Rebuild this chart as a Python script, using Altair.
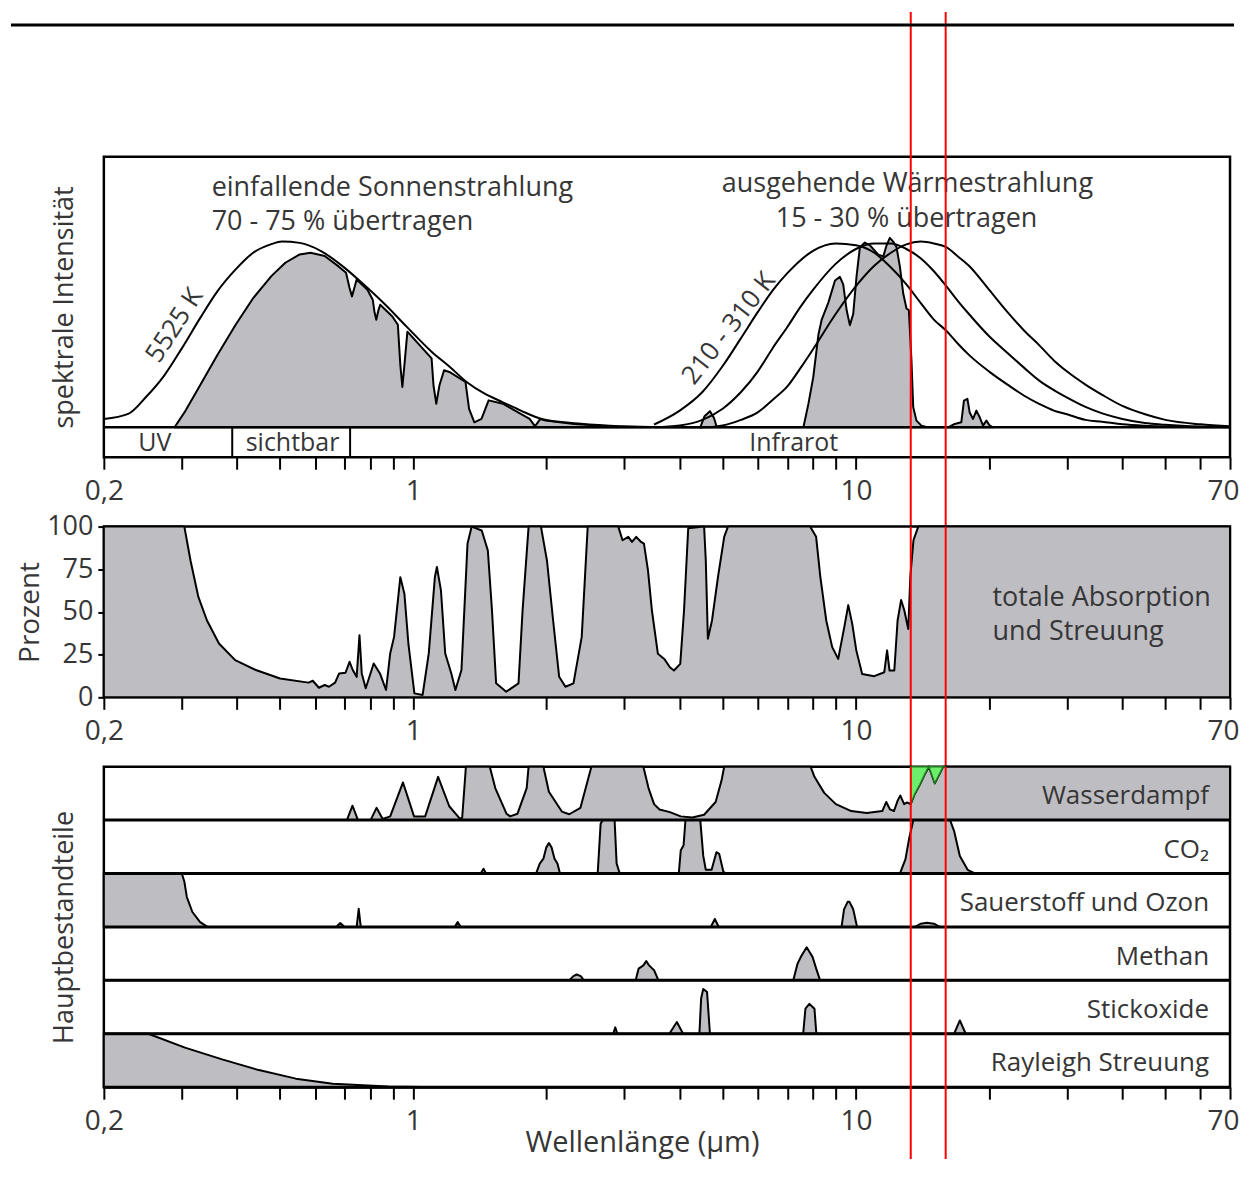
import altair as alt
import pandas as pd

FONT = "Open Sans"
INK = "#363636"
GRAY = "#bebdc2"
RED = "#ff0000"
GREEN = "#6ced6c"
GREEN_EDGE = "#1d7a1d"

# ---------------- axis ----------------
TICK_VALUES = [0.2, 0.3, 0.4, 0.5, 0.6, 0.7, 0.8, 0.9, 1, 2, 3, 4, 5, 6, 7, 8, 9,
               10, 20, 30, 40, 50, 60, 70]
TICK_TEXT = {0.2: "0,2", 1: "1", 10: "10", 70: "70"}
RED_LINES_UM = [13.3, 15.95]
BAND_EDGES_UM = [0.39, 0.72]

# ---------------- top panel: spectral intensity ----------------
BB5525 = [(0.2, 0.045), (0.227, 0.072), (0.249, 0.163), (0.274, 0.28), (0.300, 0.425),
          (0.330, 0.588), (0.361, 0.732), (0.397, 0.85), (0.435, 0.94), (0.478, 0.986),
          (0.505, 1.0), (0.554, 0.993), (0.619, 0.949), (0.692, 0.868), (0.773, 0.769),
          (0.865, 0.66), (0.966, 0.542), (1.10, 0.407), (1.21, 0.325), (1.32, 0.244),
          (1.45, 0.181), (1.59, 0.136), (1.75, 0.09), (1.95, 0.045), (2.31, 0.022),
          (2.78, 0.009), (3.46, 0.002), (4.5, 0.0)]

SOLAR_TRANSMITTED = [(0.289, 0), (0.306, 0.09), (0.330, 0.226), (0.361, 0.389), (0.397, 0.552),
                     (0.435, 0.696), (0.478, 0.814), (0.514, 0.886), (0.554, 0.931), (0.586, 0.94),
                     (0.631, 0.922), (0.679, 0.865), (0.705, 0.832), (0.718, 0.75), (0.727, 0.705),
                     (0.736, 0.75), (0.745, 0.796), (0.788, 0.741), (0.810, 0.687), (0.817, 0.624),
                     (0.825, 0.579), (0.833, 0.624), (0.842, 0.66), (0.897, 0.597), (0.923, 0.552),
                     (0.935, 0.335), (0.945, 0.217), (0.955, 0.335), (0.970, 0.515), (1.041, 0.434),
                     (1.10, 0.371), (1.111, 0.226), (1.127, 0.127), (1.146, 0.226), (1.174, 0.307),
                     (1.207, 0.298), (1.312, 0.244), (1.337, 0.099), (1.374, 0.027), (1.426, 0.045),
                     (1.480, 0.145), (1.594, 0.127), (1.749, 0.072), (1.832, 0.045), (1.884, 0.005),
                     (1.936, 0.045), (1.991, 0.036), (2.31, 0.018), (2.78, 0.005), (3.46, 0.0)]

TERR_WL = [3.5, 4, 4.5, 5, 5.5, 6, 6.5, 7, 7.5, 8, 9, 10, 11, 12, 13, 14, 15, 16, 17, 18,
           20, 22, 24, 26, 28, 30, 33, 36, 40, 45, 50, 60, 70]
BB310 = [0.015, 0.09, 0.19, 0.33, 0.48, 0.62, 0.74, 0.83, 0.90, 0.95, 0.99, 0.98, 0.94, 0.86,
         0.77, 0.67, 0.58, 0.52, 0.45, 0.39, 0.30, 0.23, 0.17, 0.125, 0.09, 0.07, 0.04, 0.03,
         0.016, 0.008, 0.004, 0, 0]
BB260 = [0, 0.01, 0.04, 0.10, 0.19, 0.30, 0.43, 0.54, 0.65, 0.74, 0.88, 0.96, 0.99, 0.99,
         0.96, 0.91, 0.84, 0.76, 0.68, 0.61, 0.49, 0.40, 0.32, 0.25, 0.20, 0.16, 0.11, 0.075,
         0.045, 0.023, 0.014, 0.004, 0]
BB210 = [0, 0, 0, 0.01, 0.04, 0.08, 0.15, 0.22, 0.32, 0.42, 0.61, 0.76, 0.87, 0.94, 0.985,
         1.0, 0.99, 0.97, 0.92, 0.87, 0.74, 0.62, 0.52, 0.44, 0.36, 0.30, 0.23, 0.175, 0.115,
         0.07, 0.04, 0.016, 0.006]

THERMAL_TRANSMITTED = [(4.45, 0), (4.55, 0.06), (4.68, 0.087), (4.78, 0.05), (4.85, 0),
                       (7.61, 0), (7.81, 0.126), (8.01, 0.27), (8.23, 0.50), (8.37, 0.58),
                       (8.66, 0.67), (8.97, 0.79), (9.20, 0.81), (9.36, 0.77), (9.53, 0.63),
                       (9.69, 0.55), (9.86, 0.61), (10.03, 0.81), (10.21, 0.97), (10.48, 0.995),
                       (10.75, 0.98), (11.23, 0.93), (11.53, 0.92), (11.73, 0.98), (11.93, 1.02),
                       (12.14, 1.0), (12.35, 0.97), (12.57, 0.865), (12.79, 0.72), (13.01, 0.64),
                       (13.17, 0.63), (13.35, 0.36), (13.47, 0.11), (13.70, 0.036), (14.06, 0.009),
                       (14.5, 0), (16.15, 0), (16.72, 0.018), (17.3, 0.027), (17.54, 0.144),
                       (17.86, 0.153), (18.07, 0.08), (18.39, 0.045), (18.71, 0.09), (19.04, 0.054),
                       (19.37, 0.009), (19.71, 0.036), (20.05, 0.01), (20.4, 0)]

# ---------------- middle panel: total absorption (%) ----------------
TOTAL_ABSORPTION = [(0.2, 100), (0.304, 100), (0.314, 80), (0.327, 58.8), (0.342, 45),
                    (0.364, 31.5), (0.396, 21.8), (0.441, 16), (0.500, 11), (0.580, 8.6),
                    (0.593, 9.7), (0.612, 5.6), (0.631, 7.2), (0.645, 6.2), (0.666, 8.6),
                    (0.680, 14), (0.703, 14.4), (0.718, 20.8), (0.730, 16), (0.745, 12),
                    (0.756, 36.4), (0.765, 14), (0.781, 5.3), (0.814, 19.8), (0.841, 14),
                    (0.868, 4.3), (0.887, 25.7), (0.905, 35.4), (0.935, 70.4), (0.955, 60.7),
                    (0.975, 31.5), (1.006, 2.3), (1.05, 1.4), (1.084, 25.7), (1.119, 70.4),
                    (1.131, 76.3), (1.155, 62.6), (1.181, 25.7), (1.219, 14), (1.245, 4.3),
                    (1.285, 16), (1.326, 89.9), (1.355, 100), (1.428, 97.7), (1.474, 86),
                    (1.506, 51), (1.539, 8.2), (1.622, 3.3), (1.729, 8.2), (1.766, 51),
                    (1.822, 100), (1.943, 100), (2.005, 80), (2.07, 45), (2.136, 12),
                    (2.207, 6.2), (2.301, 8.2), (2.402, 35.4), (2.478, 100), (2.905, 100),
                    (2.97, 92), (3.06, 94), (3.12, 91), (3.19, 94), (3.27, 91), (3.32, 90),
                    (3.39, 74.5), (3.46, 51), (3.57, 25.5), (3.69, 22.5), (3.80, 17.6),
                    (3.88, 15.7), (4.01, 19.6), (4.09, 51), (4.18, 99), (4.54, 100), (4.58, 80),
                    (4.63, 34.3), (4.73, 45), (4.88, 70.6), (5.04, 94), (5.14, 100), (7.88, 100),
                    (8.13, 94), (8.31, 70.6), (8.57, 45), (8.84, 29.4), (9.12, 22.5), (9.41, 41),
                    (9.61, 54), (9.81, 43), (10.02, 27.5), (10.33, 13.7), (11.0, 12.4),
                    (11.59, 14.7), (11.76, 27.5), (11.91, 15.7), (12.21, 15.7), (12.42, 45),
                    (12.65, 57), (12.86, 51), (13.13, 40), (13.27, 70.6), (13.49, 92),
                    (13.83, 100), (70, 100)]

# ---------------- bottom panel: main absorbers (fraction of row) ----------------
ROW_NAMES = ["Wasserdampf", "CO\u2082", "Sauerstoff und Ozon", "Methan", "Stickoxide",
             "Rayleigh Streuung"]

WATER = [(0.2, 0), (0.708, 0), (0.729, 0.27), (0.750, 0), (0.801, 0), (0.826, 0.23),
         (0.853, 0.02), (0.887, 0.07), (0.948, 0.705), (1.004, 0.07), (1.064, 0.07),
         (1.138, 0.81), (1.206, 0.26), (1.277, 0.02), (1.29, 0.05), (1.315, 1.0), (1.489, 1.0),
         (1.532, 0.6), (1.624, 0.12), (1.655, 0.07), (1.72, 0.12), (1.804, 0.6), (1.822, 1.0),
         (1.968, 1.0), (2.025, 0.53), (2.166, 0.16), (2.251, 0.11), (2.386, 0.23),
         (2.478, 0.74), (2.526, 1.0), (3.31, 1.0), (3.40, 0.6), (3.50, 0.3), (3.60, 0.2),
         (3.80, 0.15), (4.02, 0.07), (4.27, 0.05), (4.54, 0.10), (4.82, 0.34), (4.97, 0.74),
         (5.04, 1.0), (7.90, 1.0), (8.06, 0.81), (8.48, 0.51), (9.01, 0.30), (9.76, 0.17),
         (10.58, 0.135), (11.47, 0.17), (11.71, 0.34), (11.94, 0.2), (12.19, 0.17),
         (12.43, 0.37), (12.6, 0.46), (12.85, 0.30), (13.05, 0.33), (13.3, 0.30),
         (13.58, 0.49), (13.94, 0.66), (14.31, 0.86), (14.61, 1.0), (15.07, 0.69),
         (15.74, 1.0), (70, 1.0)]
CO2 = [(0.2, 0), (1.42, 0), (1.441, 0.09), (1.46, 0), (1.894, 0), (1.931, 0.185),
       (1.968, 0.278), (1.998, 0.49), (2.025, 0.57), (2.053, 0.49), (2.085, 0.278),
       (2.118, 0.185), (2.145, 0), (2.61, 0), (2.65, 0.93), (2.68, 1.0), (2.85, 1.0),
       (2.88, 0.19), (2.92, 0.03), (2.95, 0), (3.98, 0), (4.02, 0.43), (4.08, 0.53),
       (4.12, 1.0), (4.45, 1.0), (4.52, 0.33), (4.58, 0.07), (4.72, 0.07), (4.84, 0.4),
       (4.91, 0.37), (5.02, 0.03), (5.1, 0), (12.57, 0), (12.94, 0.27), (13.2, 0.67),
       (13.48, 1.0), (16.32, 1.0), (16.66, 0.8), (17.17, 0.33), (17.88, 0.07), (18.62, 0),
       (70, 0)]
OXYGEN_OZONE = [(0.2, 1.0), (0.300, 1.0), (0.304, 0.85), (0.308, 0.56), (0.317, 0.28),
                (0.330, 0.09), (0.343, 0), (0.67, 0), (0.684, 0.075), (0.70, 0), (0.745, 0),
                (0.753, 0.34), (0.761, 0), (1.24, 0), (1.26, 0.09), (1.28, 0), (4.7, 0),
                (4.80, 0.15), (4.9, 0), (9.28, 0), (9.4, 0.33), (9.58, 0.47), (9.67, 0.47),
                (9.86, 0.33), (10.06, 0), (13.6, 0), (14.0, 0.06), (14.47, 0.08), (15.0, 0.06),
                (15.46, 0), (70, 0)]
METHANE = [(0.2, 0), (2.25, 0), (2.30, 0.08), (2.34, 0.11), (2.39, 0.08), (2.43, 0),
           (3.18, 0), (3.23, 0.22), (3.31, 0.28), (3.36, 0.36), (3.41, 0.28), (3.50, 0.19),
           (3.58, 0), (7.22, 0), (7.38, 0.31), (7.51, 0.44), (7.74, 0.62), (7.98, 0.44),
           (8.14, 0.21), (8.3, 0), (70, 0)]
NITROGEN_OXIDES = [(0.2, 0), (2.83, 0), (2.86, 0.12), (2.89, 0), (3.79, 0), (3.94, 0.22),
                   (4.07, 0), (4.43, 0), (4.47, 0.66), (4.52, 0.84), (4.61, 0.78), (4.68, 0),
                   (7.6, 0), (7.69, 0.47), (7.85, 0.56), (8.06, 0.47), (8.14, 0), (16.66, 0),
                   (17.17, 0.25), (17.7, 0), (70, 0)]
RAYLEIGH = [(0.2, 1.0), (0.252, 1.0), (0.305, 0.74), (0.370, 0.52), (0.448, 0.32),
            (0.543, 0.16), (0.658, 0.065), (0.878, 0.013), (1.15, 0), (70, 0)]
GREEN_WINDOW = [(13.3, 0.30), (13.58, 0.49), (13.94, 0.66), (14.31, 0.86), (14.61, 1.0),
                (15.07, 0.69), (15.74, 1.0), (15.95, 1.0)]

# ---------------- layout ----------------
W = 1128
H_TOP, H_MID, H_BOT = 301, 171, 321

XS = alt.Scale(type="log", domain=[0.2, 70], nice=False)
LABEL_EXPR = "".join(f"datum.value == {k} ? '{v}' : " for k, v in TICK_TEXT.items()) + "''"


def x_axis(**kw):
    return alt.Axis(values=TICK_VALUES, labelExpr=LABEL_EXPR, tickSize=12, tickWidth=2,
                    tickColor="black", labelFontSize=28, labelPadding=8, labelOverlap=False,
                    labelFlush=False, domain=False, grid=False,
                    labelOffset={"condition": {"test": "datum.value == 70", "value": -7},
                                 "value": 0},
                    **kw)


X_PLAIN = alt.X("wl:Q", scale=XS, axis=x_axis(), title=None)
X_BOTTOM = alt.X("wl:Q", scale=XS, title="Wellenlänge (µm)",
                 axis=x_axis(titleX=539, titleY=64, titleAlign="center",
                             titleBaseline="alphabetic", titleFontSize=29))


def text_layer(txt, x, y, size=27, angle=0, align="left", baseline="alphabetic"):
    return alt.Chart(pd.DataFrame({"t": [txt]})).mark_text(
        align=align, baseline=baseline, fontSize=size, font=FONT, color=INK, angle=angle
    ).encode(text="t:N", x=alt.value(x), y=alt.value(y))


def pairs(rows, **extra):
    df = pd.DataFrame(rows, columns=["wl", "v"])
    for k, val in extra.items():
        df[k] = val
    return df


def red_rules(x_enc, y_top, y_bottom):
    return alt.Chart(pd.DataFrame({"wl": RED_LINES_UM})).mark_rule(
        color=RED, strokeWidth=2).encode(x=x_enc, y=alt.value(y_top), y2=alt.value(y_bottom))


# ---- top panel ----
TOP_Y = alt.Y("v:Q", scale=alt.Scale(domain=[-0.161, 1.457], nice=False, zero=False),
              title="spektrale Intensität",
              axis=alt.Axis(labels=False, ticks=False, domain=False, grid=False,
                            titleFontSize=27, titlePadding=25))

solar_area = alt.Chart(pairs(SOLAR_TRANSMITTED)).mark_area(
    fill=GRAY, stroke="black", strokeWidth=2, strokeJoin="round"
).encode(x=X_PLAIN, y=TOP_Y, y2=alt.datum(0))

thermal_area = alt.Chart(pairs(THERMAL_TRANSMITTED)).mark_area(
    fill=GRAY, stroke="black", strokeWidth=2, strokeJoin="round"
).encode(x=X_PLAIN, y=TOP_Y, y2=alt.datum(0))

curves = pd.concat([
    pairs(BB5525, curve="5525 K"),
    pd.DataFrame({"wl": TERR_WL, "v": BB310, "curve": "310 K"}),
    pd.DataFrame({"wl": TERR_WL, "v": BB260, "curve": "260 K"}),
    pd.DataFrame({"wl": TERR_WL, "v": BB210, "curve": "210 K"}),
])
bb_lines = alt.Chart(curves).mark_line(color="black", strokeWidth=2, interpolate="monotone").encode(
    x=X_PLAIN, y=TOP_Y, detail="curve:N")

baseline = alt.Chart(pd.DataFrame({"v": [0]})).mark_rule(color="black", strokeWidth=2.5).encode(
    y=TOP_Y, x=alt.value(0), x2=alt.value(W))

band_edges = alt.Chart(pd.DataFrame({"wl": BAND_EDGES_UM, "v": [0, 0]})).mark_rule(
    color="black", strokeWidth=2).encode(x=X_PLAIN, y=TOP_Y, y2=alt.value(H_TOP))

top_rule = alt.Chart(pd.DataFrame({"a": [0]})).mark_rule(color="black", strokeWidth=3).encode(
    x=alt.value(-93), x2=alt.value(1132), y=alt.value(-132))

top = alt.layer(
    solar_area, thermal_area, bb_lines, baseline, band_edges,
    text_layer("einfallende Sonnenstrahlung", 108, 39),
    text_layer("70 - 75 %  übertragen", 108, 73),
    text_layer("ausgehende Wärmestrahlung", 619, 35),
    text_layer("15 - 30 %  übertragen", 673, 70),
    text_layer("5525 K", 71, 169, size=26, angle=303, align="center", baseline="middle"),
    text_layer("210 - 310 K", 626, 172, size=26, angle=308, align="center", baseline="middle"),
    text_layer("UV", 51, 287, size=25, align="center", baseline="middle"),
    text_layer("sichtbar", 189, 287, size=25, align="center", baseline="middle"),
    text_layer("Infrarot", 691, 287, size=25, align="center", baseline="middle"),
    red_rules(X_PLAIN, -145, H_TOP + 70),
    top_rule,
).properties(width=W, height=H_TOP)

# ---- middle panel ----
MID_Y = alt.Y("v:Q", scale=alt.Scale(domain=[0, 100], nice=False), title="Prozent",
              axis=alt.Axis(values=[0, 25, 50, 75, 100], tickSize=6, tickWidth=2,
                            tickColor="black", labelFontSize=27, labelPadding=5,
                            domain=False, grid=False, titleFontSize=28, titlePadding=2))

absorption = alt.Chart(pairs(TOTAL_ABSORPTION)).mark_area(
    fill=GRAY, stroke="black", strokeWidth=2, strokeJoin="round"
).encode(x=X_PLAIN, y=MID_Y, y2=alt.datum(0))

middle = alt.layer(
    absorption,
    text_layer("totale Absorption", 890, 80),
    text_layer("und Streuung", 890, 114),
    red_rules(X_PLAIN, 0, H_MID + 70),
).properties(width=W, height=H_MID)

# ---- bottom panel ----
gas_frames = []
for i, series in enumerate([WATER, CO2, OXYGEN_OZONE, METHANE, NITROGEN_OXIDES, RAYLEIGH]):
    gas_frames.append(pairs(series, gas=ROW_NAMES[i], idx=i))
gases = pd.concat(gas_frames)

BOT_SCALE = alt.Scale(domain=[0, 6], nice=False, zero=False)
BOT_AXIS = alt.Axis(labels=False, ticks=False, domain=False, grid=False,
                    titleFontSize=27, titlePadding=25)


def bot_y(field):
    return alt.Y(f"{field}:Q", scale=BOT_SCALE, axis=BOT_AXIS, title="Hauptbestandteile")


gas_areas = alt.Chart(gases).transform_calculate(
    base="5 - datum.idx", top="5 - datum.idx + datum.v"
).mark_area(fill=GRAY, stroke="black", strokeWidth=2, strokeJoin="round").encode(
    x=X_BOTTOM, y=bot_y("top"), y2="base:Q", detail="gas:N")

green = alt.Chart(pairs(GREEN_WINDOW)).transform_calculate(
    curve="5 + datum.v", ceiling="6"
).mark_area(fill=GREEN, stroke=GREEN_EDGE, strokeWidth=1.5).encode(
    x=X_BOTTOM, y=bot_y("curve"), y2="ceiling:Q")

rows_df = pd.DataFrame({"name": ROW_NAMES, "idx": list(range(len(ROW_NAMES)))})
row_lines = alt.Chart(rows_df).transform_calculate(base="5 - datum.idx").mark_rule(
    color="black", strokeWidth=3).encode(y=bot_y("base"), x=alt.value(0), x2=alt.value(W))

row_labels = alt.Chart(rows_df).transform_calculate(mid="5.5 - datum.idx").mark_text(
    align="right", baseline="middle", fontSize=26, font=FONT, color=INK, dy=3
).encode(y=bot_y("mid"), x=alt.value(1107), text="name:N")

bottom = alt.layer(
    gas_areas, green, row_lines, row_labels,
    red_rules(X_BOTTOM, 0, H_BOT + 72),
).properties(width=W, height=H_BOT)

chart = alt.vconcat(top, middle, bottom, spacing=69.5, bounds="flush").properties(
    padding={"left": 0, "top": 0, "right": 0, "bottom": 0}
).configure_view(stroke="black", strokeWidth=2.5).configure_axis(
    labelFont=FONT, titleFont=FONT, labelColor=INK, titleColor=INK, titleFontWeight="normal"
)

chart.save("out.html", embed_options={"renderer": "svg", "actions": False})
